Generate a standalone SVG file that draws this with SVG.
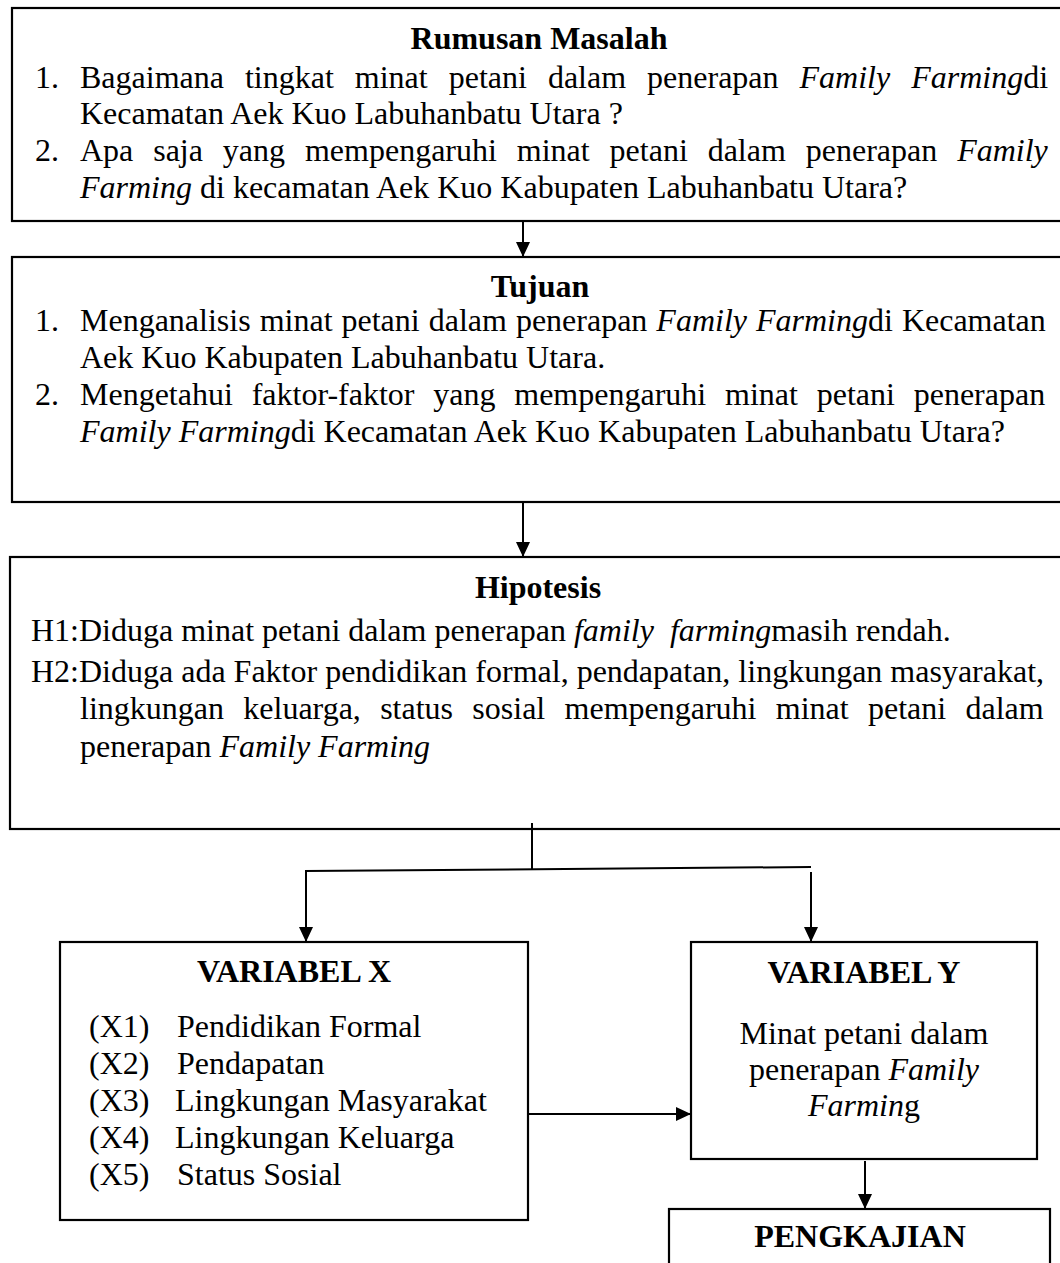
<svg xmlns="http://www.w3.org/2000/svg" width="1060" height="1263" viewBox="0 0 1060 1263">
<style>
text{font-family:"Liberation Serif","Times New Roman",serif;font-size:32px;fill:#000}
.t{font-weight:bold;text-anchor:middle}
.i{font-style:italic}
.box{fill:#fff;stroke:#000;stroke-width:2.2}
.ln{fill:none;stroke:#000;stroke-width:2}
</style>
<defs>
<marker id="ah" markerWidth="16" markerHeight="16" viewBox="0 0 16 16" refX="15" refY="8" orient="auto" markerUnits="userSpaceOnUse"><path d="M0,1 L15,8 L0,15 z" fill="#000"/></marker>
</defs>
<rect width="1060" height="1263" fill="#fff"/>

<g id="rumusan">
<rect class="box" x="12" y="8" width="1060" height="213"/>
<text class="t" x="539" y="49">Rumusan Masalah</text>
<text x="35" y="88">1.</text>
<text x="80" y="88" word-spacing="13">Bagaimana tingkat minat petani dalam penerapan <tspan class="i">Family Farming</tspan>di</text>
<text x="80" y="124">Kecamatan Aek Kuo Labuhanbatu Utara ?</text>
<text x="35" y="161">2.</text>
<text x="80" y="161" word-spacing="11.9">Apa saja yang mempengaruhi minat petani dalam penerapan <tspan class="i">Family</tspan></text>
<text x="80" y="198"><tspan class="i">Farming</tspan> di kecamatan Aek Kuo Kabupaten Labuhanbatu Utara?</text>
</g>

<g id="tujuan">
<rect class="box" x="12" y="257" width="1060" height="245"/>
<text class="t" x="540" y="297">Tujuan</text>
<text x="35" y="331">1.</text>
<text x="80" y="331" word-spacing="1">Menganalisis minat petani dalam penerapan <tspan class="i">Family Farming</tspan>di Kecamatan</text>
<text x="80" y="368">Aek Kuo Kabupaten Labuhanbatu Utara.</text>
<text x="35" y="405">2.</text>
<text x="80" y="405" word-spacing="10.8">Mengetahui faktor-faktor yang mempengaruhi minat petani penerapan</text>
<text x="80" y="442"><tspan class="i">Family Farming</tspan>di Kecamatan Aek Kuo Kabupaten Labuhanbatu Utara?</text>
</g>

<g id="hipotesis">
<rect class="box" x="10" y="557" width="1062" height="272"/>
<text class="t" x="538" y="598">Hipotesis</text>
<text x="31" y="641" xml:space="preserve">H1:Diduga minat petani dalam penerapan <tspan class="i">family  farming</tspan>masih rendah.</text>
<text x="31" y="682">H2:Diduga ada Faktor pendidikan formal, pendapatan, lingkungan masyarakat,</text>
<text x="80" y="719" word-spacing="11.3">lingkungan keluarga, status sosial mempengaruhi minat petani dalam</text>
<text x="80" y="757">penerapan <tspan class="i">Family Farming</tspan></text>
</g>

<g id="variabel-x">
<rect class="box" x="60" y="942" width="468" height="278"/>
<text class="t" x="294" y="982">VARIABEL X</text>
<text x="89" y="1037">(X1)</text><text x="177" y="1037">Pendidikan Formal</text>
<text x="89" y="1074">(X2)</text><text x="177" y="1074">Pendapatan</text>
<text x="89" y="1111">(X3)</text><text x="175" y="1111">Lingkungan Masyarakat</text>
<text x="89" y="1148">(X4)</text><text x="175" y="1148">Lingkungan Keluarga</text>
<text x="89" y="1185">(X5)</text><text x="177" y="1185">Status Sosial</text>
</g>

<g id="variabel-y">
<rect class="box" x="691" y="942" width="346" height="217"/>
<text class="t" x="864" y="983">VARIABEL Y</text>
<text x="864" y="1044" text-anchor="middle">Minat petani dalam</text>
<text x="864" y="1080" text-anchor="middle">penerapan <tspan class="i">Family</tspan></text>
<text x="864" y="1116" text-anchor="middle"><tspan class="i">Farmin</tspan>g</text>
</g>

<g id="pengkajian">
<rect class="box" x="669" y="1209" width="381" height="80"/>
<text class="t" x="860" y="1247">PENGKAJIAN</text>
</g>

<g id="connectors">
<path class="ln" d="M523,221 V257" marker-end="url(#ah)"/>
<path class="ln" d="M523,502 V557" marker-end="url(#ah)"/>
<path class="ln" d="M532,823 V870" stroke-width="1.5"/>
<path class="ln" d="M305,871 L811,867" stroke-width="2.5"/>
<path class="ln" d="M306,871 V942" marker-end="url(#ah)"/>
<path class="ln" d="M811,872 V942" marker-end="url(#ah)"/>
<path class="ln" d="M528,1114 H691" marker-end="url(#ah)"/>
<path class="ln" d="M865,1161 V1209" marker-end="url(#ah)"/>
</g>
</svg>
